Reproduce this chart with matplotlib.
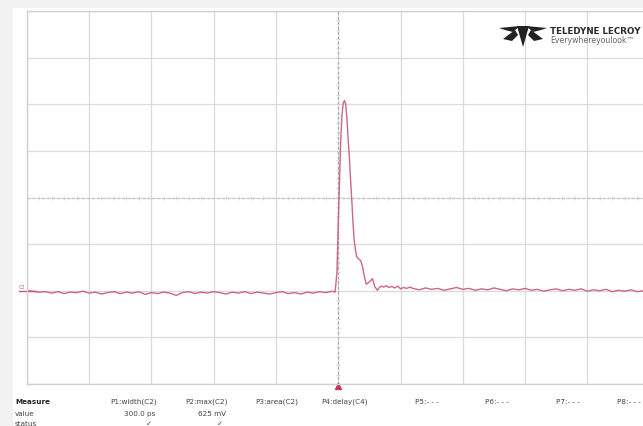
import numpy as np
import matplotlib
matplotlib.use('Agg')
import matplotlib.pyplot as plt
from matplotlib.patches import Polygon, Rectangle

W, H = 643, 427

# trace of channel C2, in screen divisions (time: -5..5, volts: -4..4)
pre_t = [-5.0, -4.9, -4.8, -4.7, -4.6, -4.5, -4.4, -4.3, -4.2, -4.1,
         -4.0, -3.9, -3.8, -3.7, -3.6, -3.5, -3.4, -3.3, -3.2, -3.1,
         -3.0, -2.9, -2.8, -2.7, -2.6, -2.5, -2.4, -2.3, -2.2, -2.1,
         -2.0, -1.9, -1.8, -1.7, -1.6, -1.5, -1.4, -1.3, -1.2, -1.1,
         -1.0, -0.9, -0.8, -0.7, -0.6, -0.5, -0.4, -0.3, -0.2, -0.1]
pre_v = [-2.00, -2.01, -2.03, -2.02, -2.05, -2.02, -2.06, -2.03, -2.04, -2.01,
         -2.05, -2.03, -2.07, -2.04, -2.02, -2.06, -2.03, -2.05, -2.02, -2.08,
         -2.04, -2.06, -2.03, -2.05, -2.10, -2.04, -2.02, -2.06, -2.03, -2.05,
         -2.02, -2.04, -2.07, -2.03, -2.05, -2.02, -2.06, -2.03, -2.05, -2.07,
         -2.04, -2.02, -2.06, -2.04, -2.07, -2.03, -2.05, -2.02, -2.04, -2.01]

pulse_t = [-0.05, -0.02, 0.00, 0.02, 0.04, 0.06, 0.08, 0.10, 0.12, 0.14,
           0.16, 0.18, 0.20, 0.22, 0.24, 0.26, 0.28, 0.30, 0.33, 0.36,
           0.39, 0.42, 0.45, 0.48, 0.51, 0.55, 0.59, 0.63, 0.66, 0.69,
           0.73, 0.77, 0.81, 0.86, 0.91, 0.96, 1.00, 1.05, 1.10, 1.15]
pulse_v = [-2.03, -1.60, -0.60, 0.30, 1.20, 1.75, 2.02, 2.08, 2.00, 1.70,
           1.25, 0.85, 0.35, -0.10, -0.60, -0.95, -1.15, -1.28, -1.32, -1.35,
           -1.48, -1.70, -1.86, -1.83, -1.80, -1.74, -1.92, -1.99, -1.93, -1.90,
           -1.92, -1.89, -1.93, -1.91, -1.94, -1.90, -1.96, -1.93, -1.95, -1.92]

post_t = [1.2, 1.3, 1.4, 1.5, 1.6, 1.7, 1.8, 1.9, 2.0, 2.1,
          2.2, 2.3, 2.4, 2.5, 2.6, 2.7, 2.8, 2.9, 3.0, 3.1,
          3.2, 3.3, 3.4, 3.5, 3.6, 3.7, 3.8, 3.9, 4.0, 4.1,
          4.2, 4.3, 4.4, 4.5, 4.6, 4.7, 4.8, 4.9, 5.0]
post_v = [-1.95, -1.98, -1.94, -1.97, -1.95, -1.99, -1.96, -1.93, -1.97, -1.95,
          -1.99, -1.96, -1.98, -1.94, -1.97, -2.00, -1.96, -1.98, -1.95, -1.99,
          -1.97, -2.01, -1.98, -1.96, -2.00, -1.97, -1.99, -1.96, -2.01, -1.98,
          -2.00, -1.97, -2.02, -1.99, -2.01, -1.98, -2.02, -2.00, -2.01]

# measurement table
headers = ['P1:width(C2)', 'P2:max(C2)', 'P3:area(C2)', 'P4:delay(C4)',
           'P5:- - -', 'P6:- - -', 'P7:- - -', 'P8:- - -']
values = ['300.0 ps', '625 mV']
status = ['\u2713', '\u2713']

TRACE = '#c85775'
GRID = '#dadada'


def px(x, y):
    return x / W, 1 - y / H


fig = plt.figure(figsize=(W / 100, H / 100), dpi=100)
fig.patch.set_facecolor('#f2f2f2')
fig.patches.append(Rectangle(px(13, H), (W - 13) / W, (H - 9) / H,
                             transform=fig.transFigure, facecolor='white',
                             edgecolor='none', zorder=-10))

ax = fig.add_axes([26.7 / W, (H - 385) / H, 623 / W, 373 / H])
ax.set_facecolor('white')
ax.set_xlim(-5, 5)
ax.set_ylim(-4, 4)
ax.set_xticks(range(-5, 6))
ax.set_yticks(range(-4, 5))
ax.tick_params(length=0, labelbottom=False, labelleft=False)
ax.grid(True, color=GRID, lw=0.9)
for s in ax.spines.values():
    s.set_color('#d0d0d0')
    s.set_linewidth(1.0)

# center cross with small division marks
ax.axhline(0, color='#c4c4c4', lw=0.9, ls=(0, (2, 2)))
ax.axvline(0, color='#a8a8a8', lw=0.9, ls=(0, (2, 2)))
ticks = np.arange(-5, 5.01, 0.2)
ax.plot(ticks, np.zeros_like(ticks), ls='none', marker='|', ms=2.5,
        color='#d2d2d2', mew=0.6)
ticks_v = np.arange(-4, 4.01, 0.2)
ax.plot(np.zeros_like(ticks_v), ticks_v, ls='none', marker='_', ms=2.5,
        color='#d2d2d2', mew=0.6)

t = pre_t + pulse_t + post_t
v = pre_v + pulse_v + post_v
ax.plot(t, v, color=TRACE, lw=1.0, alpha=0.9)

# trigger marker and ground marker
ax.plot([0], [-4.05], marker='^', ms=4, color='#c23a5a', clip_on=False)
ax.plot([-5.12, -4.85], [pre_v[0], pre_v[0]], color=TRACE, lw=1.0,
        clip_on=False)
ax.text(-5.13, pre_v[0] + 0.04, 'C2', color=TRACE, fontsize=3.5,
        va='bottom', ha='left', clip_on=False)

# logo
logo = [
    [(517, 27), (529, 27), (523, 48)],
    [(520, 27), (499, 29), (505, 31), (513, 33)],
    [(526, 27), (547, 29), (541, 31), (533, 33)],
    [(515, 31), (503, 40), (512, 42), (518, 36)],
    [(531, 31), (543, 40), (534, 42), (528, 36)],
]
for poly in logo:
    fig.patches.append(Polygon([px(x, y) for x, y in poly], closed=True,
                               transform=fig.transFigure, zorder=5,
                               facecolor='#222222', edgecolor='none'))
fig.text(*px(550, 31), 'TELEDYNE LECROY', fontsize=6.3, fontweight='bold',
         color='#2a2a2a', va='center', ha='left',
         family=['Liberation Sans Narrow', 'DejaVu Sans'])
fig.text(*px(550, 40.5), 'Everywhereyoulook\u2122', fontsize=5.6,
         color='#666666', va='center', ha='left',
         family=['Liberation Sans Narrow', 'DejaVu Sans'])

# measurement table
tfont = dict(fontsize=5.2, color='#444444', va='center')
fig.text(*px(15, 402), 'Measure', fontweight='bold', ha='left',
         **{**tfont, 'color': '#222222'})
fig.text(*px(15, 414), 'value', ha='left', **tfont)
fig.text(*px(15, 424), 'status', ha='left', **tfont)
for i, h in enumerate(headers):
    xr = min(157 + 70.4 * i, 641)
    fig.text(*px(xr, 402), h, ha='right', **tfont)
for i, val in enumerate(values):
    fig.text(*px(155 + 71 * i, 414), val, ha='right', **tfont)
for i, st in enumerate(status):
    fig.text(*px(152 + 71 * i, 424), st, ha='right', **tfont)

fig.savefig('out.png', dpi=100, facecolor=fig.get_facecolor())
